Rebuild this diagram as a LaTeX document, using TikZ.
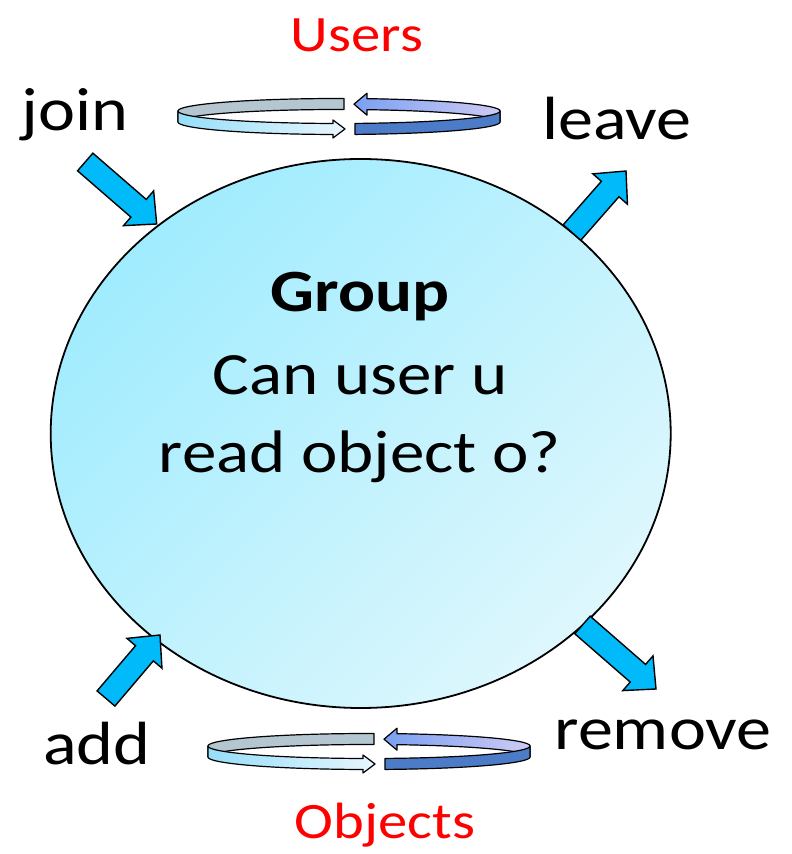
\documentclass[tikz,border=0pt]{standalone}
\usepackage{fontspec}
\usepackage{graphicx}
\setmainfont{Carlito}
\usetikzlibrary{calc,shapes.geometric}
\definecolor{arrowblue}{RGB}{0,186,250}
\definecolor{ellA}{RGB}{160,236,254}
\definecolor{ellB}{RGB}{222,247,253}
\definecolor{ringgrey}{RGB}{180,198,208}
\definecolor{ringcyanA}{RGB}{150,222,250}
\definecolor{ringcyanB}{RGB}{232,246,253}
\definecolor{ringblueA}{RGB}{122,160,242}
\definecolor{ringblueB}{RGB}{206,202,244}
\definecolor{ringdark}{RGB}{76,124,200}
\newcommand\hs[1]{\scalebox{1.15}[1]{#1}}
\newcommand\blockarr[2]{%
  \coordinate (#1base) at ($(#2)!24pt!(#1)$);
  \filldraw[bigarrow] ($(#1)!11.7pt!90:(#2)$) -- ($(#1base)!11.7pt!90:(#2)$)
    -- ($(#1base)!23pt!90:(#2)$) -- (#2) -- ($(#1base)!23pt!-90:(#2)$)
    -- ($(#1base)!11.7pt!-90:(#2)$) -- ($(#1)!11.7pt!-90:(#2)$) -- cycle;}
\newcommand\ring{%
  \filldraw[ringline, fill=ringgrey]
    plot[domain=88.2:180,samples=40] ({161*cos(\x)},{5.5+12.5*sin(\x)})
    -- plot[domain=180:88.2,samples=40] ({161*cos(\x)},{-5.5+12.5*sin(\x)}) -- cycle;
  \filldraw[ringline, left color=ringblueA, right color=ringblueB]
    plot[domain=80:0,samples=40] ({161*cos(\x)},{5.5+12.5*sin(\x)})
    -- plot[domain=0:80,samples=40] ({161*cos(\x)},{-5.5+12.5*sin(\x)})
    -- (28,1.3) -- (15,12.3) -- (28,23.3) -- cycle;
  \filldraw[ringline, left color=ringcyanA, right color=ringcyanB]
    plot[domain=180:267.9,samples=40] ({161*cos(\x)},{5.5+12.5*sin(\x)})
    -- (-6,-3.5) -- (6,-12.5) -- (-6,-21.5)
    -- plot[domain=267.9:180,samples=40] ({161*cos(\x)},{-5.5+12.5*sin(\x)}) -- cycle;
  \filldraw[ringline, fill=ringdark]
    plot[domain=275.7:360,samples=40] ({161*cos(\x)},{5.5+12.5*sin(\x)})
    -- plot[domain=360:275.7,samples=40] ({161*cos(\x)},{-5.5+12.5*sin(\x)}) -- cycle;}
\tikzset{
  bigarrow/.style={draw=black, fill=arrowblue, line width=1.4pt, line join=miter},
  ringline/.style={draw=black, line width=1.2pt, line join=round},
  body/.style={font=\fontsize{60}{72}\selectfont, anchor=base, inner sep=0pt},
  lab/.style={font=\fontsize{61}{72}\selectfont, anchor=base, inner sep=0pt},
  redlab/.style={font=\fontsize{51}{62}\selectfont, text=red, anchor=base, inner sep=0pt}
}
\begin{document}
\begin{tikzpicture}[x=1pt,y=1pt]
\useasboundingbox (0,0) rectangle (792,854);
\node[ellipse, draw=black, line width=1.8pt, minimum width=620pt, minimum height=549pt,
  top color=ellA, bottom color=ellB, shading angle=45, inner sep=0pt] (group) at (360.7,420.5) {};
\node[body] (tgroup) at (360,542) {\hs{\bfseries Group}};
\node[body] (tcan) at (360,459) {\hs{Can user u}};
\node[body] (tread) at (360,381) {\hs{read object o?}};
% block arrows
\coordinate (jointail) at (85.2,692);
\coordinate (jointip) at (156.7,630);
\coordinate (leavetail) at (572,621.5);
\coordinate (leavetip) at (626,683);
\coordinate (addtail) at (106,155.5);
\coordinate (addtip) at (160,219);
\coordinate (removetail) at (582.5,229);
\coordinate (removetip) at (656,165);
\blockarr{jointail}{jointip}
\blockarr{leavetail}{leavetip}
\blockarr{addtail}{addtip}
\blockarr{removetail}{removetip}
% rings
\begin{scope}[shift={(339,737.5)}]\ring\end{scope}
\begin{scope}[shift={(369,102.5)}]\ring\end{scope}
% labels
\node[redlab] (users) at (357,802) {\hs{Users}};
\node[redlab] (objects) at (385,15) {\hs{Objects}};
\node[lab] (join) at (75,723) {\hs{join}};
\node[lab] (leave) at (617,714) {\hs{leave}};
\node[lab] (add) at (97,89) {\hs{add}};
\node[lab] (remove) at (663,104) {\hs{remove}};
\end{tikzpicture}
\end{document}
